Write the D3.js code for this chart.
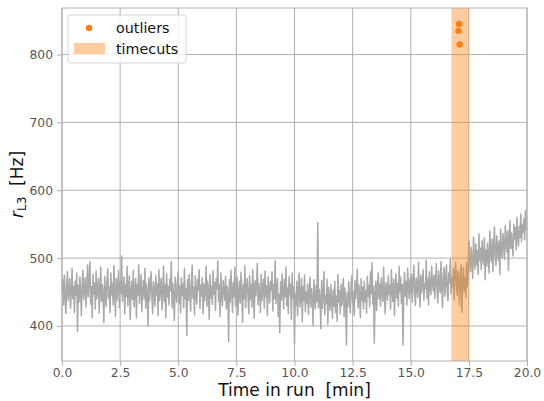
<!DOCTYPE html>
<html>
<head>
<meta charset="utf-8">
<script src="https://cdn.jsdelivr.net/npm/d3@7/dist/d3.min.js"></script>
<style>
  html, body { margin: 0; padding: 0; background: #fff; }
  svg { display: block; font-family: "DejaVu Sans", sans-serif; }
</style>
</head>
<body>
<svg id="chart" width="544" height="401"></svg>
<script>
// L3 trigger rate over the run, 30 samples per minute from 0 to 20 min
const rateL3 = [
  452,468,431,475,444,418,462,480,437,455,470,426,449,485,440,458,420,466,445,478,
  392,460,435,472,450,415,463,482,439,456,
  471,428,454,490,443,466,495,432,458,412,476,447,463,425,481,440,456,470,419,452,
  487,436,461,444,405,473,450,429,468,484,
  441,457,420,478,446,463,431,489,452,414,470,438,459,482,427,465,448,503,436,455,
  472,418,461,443,488,430,457,474,409,450,
  466,439,482,428,455,470,412,461,445,490,433,458,476,421,452,467,440,485,426,462,
  448,400,471,437,459,480,444,418,465,453,
  429,474,446,462,415,483,438,456,470,424,450,488,436,461,412,477,443,458,431,469,
  452,495,427,463,441,408,472,449,435,466,
  480,433,458,419,471,445,462,427,485,440,455,386,468,437,476,450,422,463,490,441,
  457,416,474,448,432,469,453,483,426,460,
  444,471,418,462,437,455,488,429,466,450,410,476,441,458,432,481,447,464,423,470,
  455,496,436,461,414,478,445,430,467,452,
  438,473,425,459,446,377,468,435,482,451,420,464,443,487,429,457,472,416,448,466,
  434,479,452,405,461,440,489,427,455,470,
  446,418,474,439,461,428,483,452,411,467,444,458,492,431,463,449,420,476,437,455,
  469,426,481,443,459,415,472,450,434,466,
  453,480,422,461,440,496,433,458,470,414,447,390,465,438,477,452,425,469,443,487,
  430,456,418,473,446,462,409,478,441,457,
  373,448,430,466,415,452,478,428,444,470,406,458,437,475,421,450,433,462,417,446,
  472,428,455,439,401,468,443,425,460,436,
  552,427,454,441,396,467,426,450,480,416,445,433,469,402,457,439,423,461,437,411,
  453,429,466,420,444,407,476,435,452,418,
  462,430,448,470,414,456,437,372,449,428,465,441,419,458,474,432,450,415,467,440,
  455,484,427,461,445,412,470,438,457,425,
  466,436,452,419,473,444,460,428,480,448,493,432,458,375,447,466,423,455,478,440,
  462,429,471,450,436,486,445,418,464,452,
  438,474,447,460,425,483,452,436,469,415,458,477,441,463,429,488,450,472,433,461,
  372,455,479,444,466,431,485,457,440,470,
  448,476,435,463,489,452,430,471,458,442,494,460,428,475,449,466,483,438,462,455,
  497,441,470,431,480,458,446,488,463,452,
  475,440,468,492,455,434,481,461,449,495,457,427,473,486,444,466,490,452,437,478,
  464,498,447,471,458,485,439,476,493,460,
  445,482,468,430,475,490,420,463,486,452,471,442,494,458,477,
  525,498,480,516,492,470,531,503,484,521,490,511,476,536,497,
  514,483,526,505,491,530,468,512,488,522,500,478,540,508,495,528,480,517,546,502,
  489,533,515,497,525,476,543,512,501,536,
  520,498,548,526,509,540,482,531,555,514,537,521,503,550,528,545,512,560,533,518,
  547,530,565,524,549,538,558,527,570,543,
  541
];
const runMinutes = 20;
const timeMin = rateL3.map((_, i) => i * runMinutes / (rateL3.length - 1));

// flagged samples and the excluded time window
const outlierTime = [17.08, 17.05, 17.10];
const outlierRate = [845, 835, 815];
const timecut = [16.75, 17.5];

const xTicks = [0, 2.5, 5, 7.5, 10, 12.5, 15, 17.5, 20];
const yTicks = [400, 500, 600, 700, 800];

const svg = d3.select("#chart");
const plot = { left: 62, right: 527, top: 8, bottom: 361 };

const x = d3.scaleLinear().domain([0, runMinutes]).range([plot.left, plot.right]);

const allY = rateL3.concat(outlierRate);
const yMin = d3.min(allY), yMax = d3.max(allY), pad = (yMax - yMin) * 0.05;
const y = d3.scaleLinear().domain([yMin - pad, yMax + pad]).range([plot.bottom, plot.top]);

const gridColor = "#b0b0b0";
const tickText = "#555555";

// grid lines
const grid = svg.append("g");
grid.selectAll(".gx").data(xTicks).join("line")
  .attr("x1", d => x(d)).attr("x2", d => x(d))
  .attr("y1", plot.top).attr("y2", plot.bottom)
  .attr("stroke", gridColor).attr("stroke-width", 1);
grid.selectAll(".gy").data(yTicks).join("line")
  .attr("x1", plot.left).attr("x2", plot.right)
  .attr("y1", d => y(d)).attr("y2", d => y(d))
  .attr("stroke", gridColor).attr("stroke-width", 1);

// rate trace
svg.append("path")
  .datum(rateL3.map((v, i) => [timeMin[i], v]))
  .attr("fill", "none")
  .attr("stroke", "#a9a9a9")
  .attr("stroke-width", 1.5)
  .attr("stroke-linejoin", "round")
  .attr("d", d3.line().x(d => x(d[0])).y(d => y(d[1])));

// excluded window
svg.append("rect")
  .attr("x", x(timecut[0])).attr("width", x(timecut[1]) - x(timecut[0]))
  .attr("y", plot.top).attr("height", plot.bottom - plot.top)
  .attr("fill", "#ff7f0e").attr("fill-opacity", 0.4);

// outliers
svg.selectAll(".outlier").data(outlierTime.map((t, i) => [t, outlierRate[i]])).join("circle")
  .attr("cx", d => x(d[0])).attr("cy", d => y(d[1])).attr("r", 3.2)
  .attr("fill", "#ff7f0e");

// frame
svg.append("rect")
  .attr("x", plot.left).attr("y", plot.top)
  .attr("width", plot.right - plot.left).attr("height", plot.bottom - plot.top)
  .attr("fill", "none").attr("stroke", gridColor).attr("stroke-width", 1);

// axes
const fmtX = d3.format(".1f");
const xAxis = svg.append("g").attr("transform", `translate(0,${plot.bottom})`)
  .call(d3.axisBottom(x).tickValues(xTicks).tickFormat(fmtX).tickSize(5).tickPadding(2));
const yAxis = svg.append("g").attr("transform", `translate(${plot.left},0)`)
  .call(d3.axisLeft(y).tickValues(yTicks).tickSize(5).tickPadding(4));
[xAxis, yAxis].forEach(a => {
  a.select(".domain").remove();
  a.selectAll(".tick line").attr("stroke", gridColor);
  a.selectAll(".tick text").attr("fill", tickText)
    .style("font-family", "DejaVu Sans").style("font-size", "12.3px");
});

// axis titles
svg.append("text")
  .attr("x", (plot.left + plot.right) / 2).attr("y", 396)
  .attr("text-anchor", "middle").attr("fill", "#111")
  .style("font-size", "17px").style("white-space", "pre")
  .text("Time in run  [min]");

const yl = svg.append("text")
  .attr("transform", `translate(23,${(plot.top + plot.bottom) / 2}) rotate(-90)`)
  .attr("text-anchor", "middle").attr("fill", "#111")
  .style("font-size", "17px").style("white-space", "pre");
yl.append("tspan").style("font-style", "italic").text("r");
yl.append("tspan").attr("dy", 3).style("font-size", "12px").text("L3");
yl.append("tspan").attr("dy", -3).text("  [Hz]");

// legend
const lg = svg.append("g").attr("transform", "translate(68,15)");
lg.append("rect").attr("width", 118).attr("height", 48).attr("rx", 3)
  .attr("fill", "#fff").attr("fill-opacity", 0.8)
  .attr("stroke", "#d6d6d6").attr("stroke-width", 1);
lg.append("circle").attr("cx", 21).attr("cy", 13).attr("r", 3.2).attr("fill", "#ff7f0e");
lg.append("rect").attr("x", 6).attr("y", 28).attr("width", 31).attr("height", 11)
  .attr("fill", "#ff7f0e").attr("fill-opacity", 0.4);
lg.append("text").attr("x", 48).attr("y", 18).attr("fill", "#111")
  .style("font-size", "14.3px").text("outliers");
lg.append("text").attr("x", 48).attr("y", 39).attr("fill", "#111")
  .style("font-size", "14.3px").text("timecuts");
</script>
</body>
</html>
